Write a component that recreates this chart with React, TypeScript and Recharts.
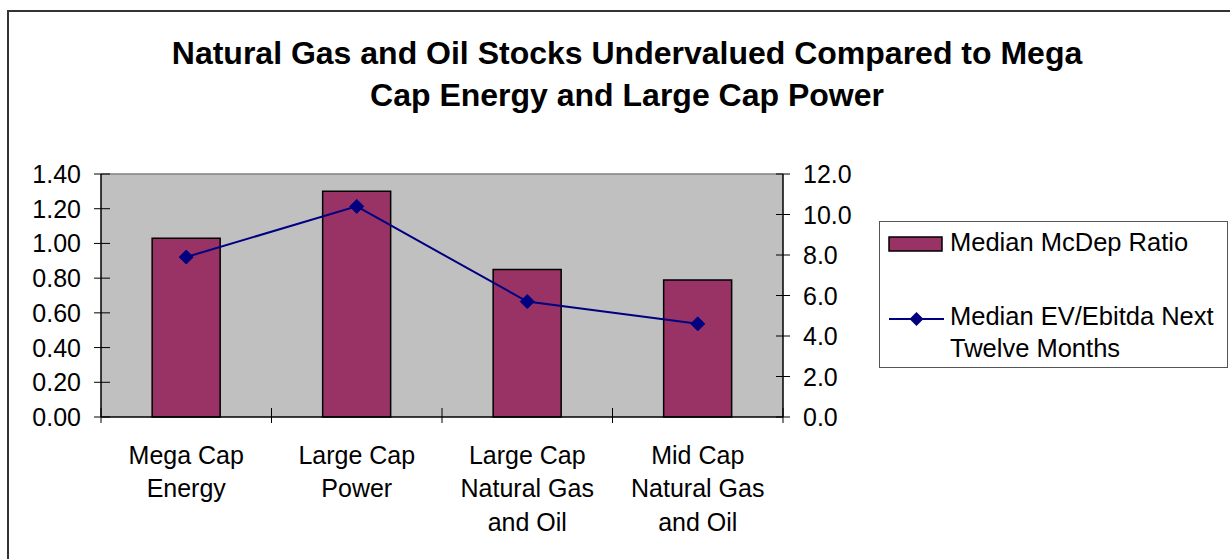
import React from 'react';
import { ComposedChart, Bar, Line, XAxis, YAxis, CartesianGrid, Legend, ReferenceLine } from 'recharts';

const categories = [
  'Mega Cap\nEnergy',
  'Large Cap\nPower',
  'Large Cap\nNatural Gas\nand Oil',
  'Mid Cap\nNatural Gas\nand Oil',
];
const mcdepRatio = [1.03, 1.3, 0.85, 0.79];
const evEbitda = [7.9, 10.4, 5.7, 4.6];
const leftTicks = [0, 0.2, 0.4, 0.6, 0.8, 1.0, 1.2, 1.4];
const rightTicks = [0, 2, 4, 6, 8, 10, 12];
const seriesNames = ['Median McDep Ratio', 'Median EV/Ebitda Next Twelve Months'];
const titleLines = [
  'Natural Gas and Oil Stocks Undervalued Compared to Mega',
  'Cap Energy and Large Cap Power',
];

const data = categories.map((c, i) => ({ category: c, mcdep: mcdepRatio[i], ev: evEbitda[i] }));

const FONT = '"Liberation Sans", Arial, Helvetica, sans-serif';
const W = 1230;
const H = 559;
const LEFT_W = 101;
const RIGHT_W = 80;
const MARGIN = { top: 174, right: 367, bottom: 12, left: 0 };
const X_H = 130;
const PLOT_W = W - MARGIN.left - LEFT_W - MARGIN.right - RIGHT_W;
const BAND = PLOT_W / categories.length;
const BAR_COLOR = '#993366';
const LINE_COLOR = '#000080';

const XTick = (props: any) => {
  const { x, y, payload, index } = props;
  const axisY = y - 10;
  const half = BAND / 2;
  const lines = String(payload.value).split('\n');
  return (
    <g>
      <line x1={x - half} x2={x - half} y1={axisY - 9} y2={axisY + 6} stroke="#000" strokeWidth={1} />
      {index === categories.length - 1 && (
        <line x1={x + half} x2={x + half} y1={axisY - 9} y2={axisY + 6} stroke="#000" strokeWidth={1} />
      )}
      <text x={x} textAnchor="middle" fontSize={25} fill="#000" fontFamily={FONT}>
        {lines.map((l, i) => (
          <tspan key={i} x={x} y={y + 36.5 + i * 33.5}>
            {l}
          </tspan>
        ))}
      </text>
    </g>
  );
};

const LeftTick = (props: any) => {
  const { x, y, payload } = props;
  const axisX = x + 20;
  return (
    <g>
      <line x1={axisX - 7} x2={axisX + 9} y1={y} y2={y} stroke="#000" strokeWidth={1} />
      <text x={x} y={y + 9} textAnchor="end" fontSize={25} fill="#000" fontFamily={FONT}>
        {Number(payload.value).toFixed(2)}
      </text>
    </g>
  );
};

const RightTick = (props: any) => {
  const { x, y, payload } = props;
  const axisX = x - 20;
  return (
    <g>
      <line x1={axisX - 7} x2={axisX + 7} y1={y} y2={y} stroke="#000" strokeWidth={1} />
      <text x={x} y={y + 9} textAnchor="start" fontSize={25} fill="#000" fontFamily={FONT}>
        {Number(payload.value).toFixed(1)}
      </text>
    </g>
  );
};

const Diamond = (props: any) => {
  const { cx, cy, index } = props;
  if (cx == null || cy == null) return <g key={index} />;
  const s = 7;
  return (
    <path
      key={index}
      d={`M${cx},${cy - s}L${cx + s},${cy}L${cx},${cy + s}L${cx - s},${cy}Z`}
      fill={LINE_COLOR}
      stroke={LINE_COLOR}
    />
  );
};

const LegendBox = () => (
  <svg width={349} height={147} style={{ display: 'block', overflow: 'visible' }}>
    <rect x={0.5} y={0.5} width={348} height={146} fill="#fff" stroke="#555" strokeWidth={1} />
    <rect x={10} y={16} width={53} height={14} fill={BAR_COLOR} stroke="#000" strokeWidth={1.5} />
    <text x={71} y={30} fontSize={25.5} fontFamily={FONT} fill="#000">
      {seriesNames[0]}
    </text>
    <line x1={10} x2={65} y1={98} y2={98} stroke={LINE_COLOR} strokeWidth={2} />
    <path d="M37.5,91L44.5,98L37.5,105L30.5,98Z" fill={LINE_COLOR} />
    <text x={71} y={104} fontSize={25.5} fontFamily={FONT} fill="#000">
      Median EV/Ebitda Next
    </text>
    <text x={71} y={136} fontSize={25.5} fontFamily={FONT} fill="#000">
      Twelve Months
    </text>
  </svg>
);

export default function App() {
  return (
    <div
      style={{
        position: 'absolute',
        left: 0,
        top: 0,
        width: W,
        height: H,
        background: '#fff',
        fontFamily: FONT,
        overflow: 'hidden',
      }}
    >
      <div style={{ position: 'absolute', left: 7, top: 10, width: W, height: 2, background: '#333' }} />
      <div style={{ position: 'absolute', left: 7, top: 10, width: 2, height: H, background: '#333' }} />
      <div
        style={{
          position: 'absolute',
          left: 127,
          top: 32,
          width: 1000,
          textAlign: 'center',
          fontSize: 32,
          fontWeight: 'bold',
          lineHeight: '42px',
          color: '#000',
          fontFamily: FONT,
          whiteSpace: 'nowrap',
        }}
      >
        {titleLines.map((t, i) => (
          <div key={i}>{t}</div>
        ))}
      </div>
      <div style={{ position: 'absolute', left: 0, top: 0 }}>
        <ComposedChart width={W} height={H} data={data} margin={MARGIN} barCategoryGap="30%">
          <CartesianGrid yAxisId="left" horizontal={false} vertical={false} fill="#C0C0C0" />
          <XAxis
            dataKey="category"
            height={X_H}
            interval={0}
            tickSize={8}
            tickMargin={2}
            tickLine={false}
            axisLine={{ stroke: '#000', strokeWidth: 1.5 }}
            tick={<XTick />}
          />
          <YAxis
            yAxisId="left"
            width={LEFT_W}
            domain={[0, 1.4]}
            ticks={leftTicks}
            interval={0}
            tickSize={8}
            tickMargin={12}
            tickLine={false}
            axisLine={{ stroke: '#000', strokeWidth: 1.5 }}
            tick={<LeftTick />}
          />
          <YAxis
            yAxisId="right"
            orientation="right"
            width={RIGHT_W}
            domain={[0, 12]}
            ticks={rightTicks}
            interval={0}
            tickSize={8}
            tickMargin={12}
            tickLine={false}
            axisLine={{ stroke: '#000', strokeWidth: 1.5 }}
            tick={<RightTick />}
          />
          <ReferenceLine yAxisId="left" y={1.4} stroke="#808080" strokeWidth={1.5} />
          <Bar
            yAxisId="left"
            dataKey="mcdep"
            name={seriesNames[0]}
            fill={BAR_COLOR}
            stroke="#000"
            strokeWidth={1.5}
            isAnimationActive={false}
          />
          <Line
            yAxisId="right"
            dataKey="ev"
            name={seriesNames[1]}
            stroke={LINE_COLOR}
            strokeWidth={2}
            dot={Diamond}
            activeDot={false}
            isAnimationActive={false}
          />
          <Legend
            layout="vertical"
            align="center"
            verticalAlign="middle"
            wrapperStyle={{ position: 'absolute', left: 879, top: 221, width: 349, height: 147 }}
            content={() => <LegendBox />}
          />
        </ComposedChart>
      </div>
    </div>
  );
}
